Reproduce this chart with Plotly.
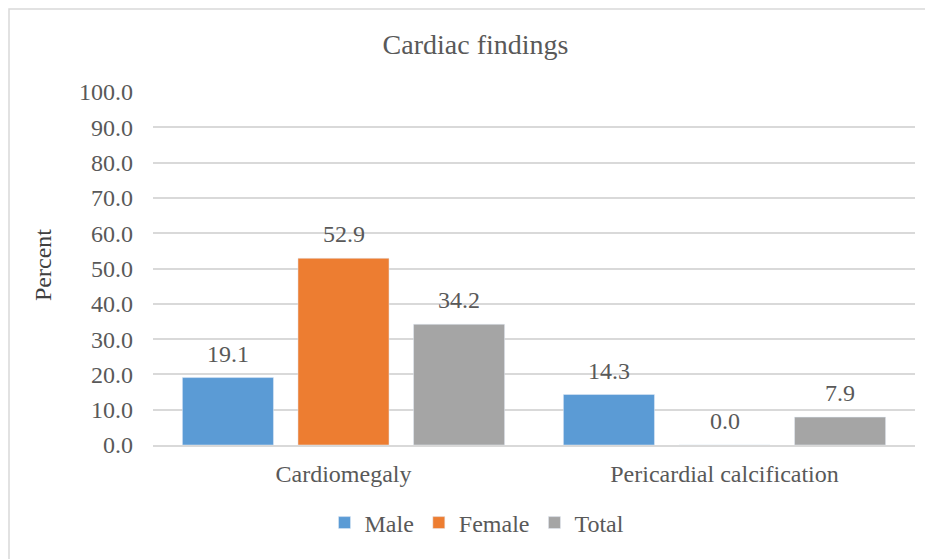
import plotly.graph_objects as go

categories = ["Cardiomegaly", "Pericardial calcification"]
male = [19.1, 14.3]
female = [52.9, 0.0]
total = [34.2, 7.9]
series_names = ["Male", "Female", "Total"]
colors = ["#5B9BD5", "#ED7D31", "#A5A5A5"]
tick_vals = [0, 10, 20, 30, 40, 50, 60, 70, 80, 90, 100]
tick_text = [f"{v:.1f}" for v in tick_vals]

FONT = "Liberation Serif"
TXT = "#595959"
FS = 24
W, H = 933, 559
L, R, T, B = 145, 26, 84, 122
PW, PH = W - L - R, H - T - B
BARGAP, GROUPGAP = 0.09, 0.212

fig = go.Figure()
for name, vals, col in zip(series_names, [male, female, total], colors):
    fig.add_trace(go.Bar(x=categories, y=vals, name=name, marker_color=col))

# data labels above bars, placed on the bar positions of each series
slot = PW / len(categories) * (1 - BARGAP) / len(series_names)
annotations = []
for i, vals in enumerate([male, female, total]):
    for cat, v in zip(categories, vals):
        annotations.append(dict(
            x=cat, y=v, xref="x", yref="y", text=f"{v:.1f}", showarrow=False,
            xshift=(i - (len(series_names) - 1) / 2) * slot, yshift=24,
            xanchor="center", yanchor="middle",
            font=dict(family=FONT, size=FS, color=TXT)))
annotations.append(dict(text="Percent", xref="paper", yref="paper",
                        x=(35 - L) / PW, y=(H - B - 257) / PH, textangle=-90,
                        showarrow=False, xanchor="center", yanchor="middle",
                        font=dict(family=FONT, size=FS, color="#404040")))

fig.update_layout(
    width=W, height=H,
    paper_bgcolor="white", plot_bgcolor="white",
    margin=dict(l=L, r=R, t=T, b=B, autoexpand=False),
    barmode="group", bargap=BARGAP, bargroupgap=GROUPGAP,
    font=dict(family=FONT, color=TXT, size=FS),
    title=dict(text="Cardiac findings", x=467.5 / W, xanchor="center", xref="container",
               y=1 - 36 / H, yanchor="middle",
               font=dict(family=FONT, size=28, color=TXT)),
    xaxis=dict(showline=True, linecolor="#D9D9D9", linewidth=1.5, automargin=False,
               tickfont=dict(family=FONT, size=FS, color=TXT), ticks="",
               ticklabelstandoff=6, showgrid=False),
    yaxis=dict(range=[0, 100], tickvals=tick_vals, ticktext=tick_text, automargin=False,
               showgrid=True, gridcolor="#D9D9D9", gridwidth=1.5,
               zeroline=False, showline=False, ticks="", ticklabelstandoff=19,
               tickfont=dict(family=FONT, size=FS, color=TXT)),
    legend=dict(orientation="h", x=469 / W, xanchor="center", xref="container",
                y=(H - 515) / H, yanchor="middle", yref="container",
                font=dict(family=FONT, size=FS, color=TXT), itemwidth=30,
                traceorder="normal"),
    showlegend=True,
    annotations=annotations,
)
fig.add_shape(type="rect", xref="paper", yref="paper",
              x0=(1 - L) / PW, x1=(945 - L) / PW,
              y0=(H - B - 575) / PH, y1=(H - B - 1) / PH,
              line=dict(color="#D9D9D9", width=1.5), fillcolor="rgba(0,0,0,0)",
              layer="below")

fig.write_html("out.html")
